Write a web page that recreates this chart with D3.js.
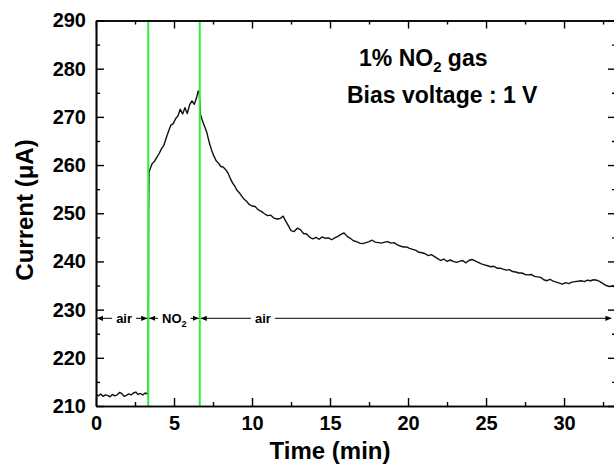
<!DOCTYPE html>
<html>
<head>
<meta charset="utf-8">
<script src="https://cdn.jsdelivr.net/npm/d3@7"></script>
<style>
  body { margin: 0; background: #fff; }
  text { font-family: "Liberation Sans", Arial, sans-serif; font-weight: bold; }
</style>
</head>
<body>
<div id="chart"></div>
<script>
// time (min) and current (uA)
var time = [0, 0.15, 0.3, 0.45, 0.6, 0.75, 0.9, 1.05, 1.2, 1.35, 1.5, 1.65, 1.8, 1.95, 2.1, 2.25, 2.4, 2.55, 2.7, 2.85, 3.0, 3.15, 3.3,
  3.35, 3.37, 3.4, 3.5, 3.6, 3.75, 3.9, 4.05, 4.2, 4.35, 4.5, 4.65, 4.8, 4.95, 5.1, 5.25, 5.4, 5.55, 5.7, 5.85, 6.0, 6.15, 6.3, 6.45, 6.55, 6.62,
  6.7, 6.8, 6.95, 7.1, 7.25, 7.4, 7.55, 7.7, 7.85, 8.0, 8.15, 8.3, 8.45, 8.6, 8.75, 8.9, 9.05, 9.2, 9.35, 9.5, 9.65, 9.8,
  10.0, 10.2, 10.4, 10.6, 10.8, 11.0, 11.2, 11.4, 11.6, 11.8, 12.0, 12.15, 12.3, 12.5, 12.7, 12.9, 13.1, 13.3, 13.5, 13.7, 13.9,
  14.1, 14.3, 14.5, 14.7, 14.9, 15.1, 15.3, 15.5, 15.7, 15.9, 16.1, 16.3, 16.5, 16.7, 16.9, 17.1, 17.3, 17.5, 17.7, 17.9,
  18.1, 18.3, 18.5, 18.7, 18.9, 19.1, 19.3, 19.5, 19.7, 19.9, 20.1, 20.3, 20.5, 20.7, 20.9, 21.1, 21.3, 21.5, 21.7, 21.9,
  22.1, 22.3, 22.5, 22.7, 22.9, 23.1, 23.3, 23.5, 23.7, 23.9, 24.1, 24.3, 24.5, 24.7, 24.9, 25.1, 25.3, 25.5, 25.7, 25.9,
  26.1, 26.3, 26.5, 26.7, 26.9, 27.1, 27.3, 27.5, 27.7, 27.9, 28.1, 28.3, 28.5, 28.7, 28.9, 29.1, 29.3, 29.5, 29.7, 29.9,
  30.1, 30.3, 30.5, 30.7, 30.9, 31.1, 31.3, 31.5, 31.7, 31.9, 32.1, 32.3, 32.5, 32.7, 32.9, 33.1, 33.3];
var current = [212.4, 212.1, 212.5, 212.0, 212.3, 212.2, 211.9, 212.4, 212.1, 212.3, 212.8, 212.6, 212.0, 212.2, 212.5, 212.3, 212.7, 212.9, 212.4, 212.6, 212.3, 212.7, 212.5,
  212.6, 250.0, 258.5, 259.5, 260.3, 260.8, 261.6, 262.4, 263.4, 264.1, 265.6, 267.0, 268.3, 268.6, 269.6, 270.2, 271.6, 270.6, 271.9, 270.7, 272.5, 273.3, 272.6, 274.0, 275.4, 274.8,
  270.5, 269.4, 268.1, 266.8, 264.8, 263.2, 261.9, 260.9, 260.4, 259.7, 259.6, 259.1, 258.4, 257.3, 256.3, 255.6, 254.7, 254.2, 253.5, 252.9, 252.5, 251.9,
  251.5, 251.4, 250.7, 250.4, 249.9, 249.5, 249.6, 249.0, 248.8, 248.9, 249.4, 248.4, 247.6, 246.4, 246.2, 246.9, 246.6, 245.8, 245.7, 245.0, 244.7,
  245.0, 244.6, 245.1, 244.8, 244.9, 244.5, 244.9, 245.2, 245.6, 245.9, 245.2, 244.8, 244.3, 244.1, 243.8, 243.7, 243.9, 244.1, 244.4, 244.0,
  243.9, 243.8, 244.0, 244.1, 243.8, 243.9, 243.5, 243.2, 243.0, 243.0, 242.7, 242.5, 242.3, 241.9, 241.8, 241.6, 241.2, 241.4, 241.0, 240.6,
  240.2, 240.5, 240.0, 240.3, 240.0, 239.8, 240.0, 240.2, 239.7, 240.2, 240.4, 240.1, 239.8, 239.5, 239.3, 239.1, 238.9, 239.0, 238.6, 238.6,
  238.4, 238.2, 238.3, 237.9, 237.8, 237.6, 237.6, 237.3, 237.2, 237.3, 236.9, 236.8, 236.7, 236.2, 236.0, 236.3, 235.9, 235.7, 235.5, 235.3,
  235.6, 235.4, 235.7, 235.8, 235.9, 236.0, 235.8, 236.1, 236.0, 236.2, 236.1, 235.8, 235.4, 235.0, 234.8, 234.9, 234.7];

var xMajor = [0, 5, 10, 15, 20, 25, 30];
var xMinor = [2.5, 7.5, 12.5, 17.5, 22.5, 27.5, 32.5];
var yMajor = [210, 220, 230, 240, 250, 260, 270, 280, 290];
var yMinor = [215, 225, 235, 245, 255, 265, 275, 285];

// gas switching times (green lines) and the phase arrows
var switchTimes = [3.35, 6.65];
var phaseLabels = ["air", "NO2", "air"];
var phaseStart = [0, 3.35, 6.65];
var phaseEnd = [3.35, 6.65, 33.1];
var phaseLabelAt = [1.8, 5.02, 10.7];
var phaseLevel = 228.2;

function draw() {
    var w = 614, h = 466;

    var x = d3.scaleLinear().domain([0, 33.33]).range([96, 616]);
    var y = d3.scaleLinear().domain([210, 290]).range([406, 20.5]);

    var svg = d3.select("#chart").append("svg")
        .attr("width", w)
        .attr("height", h);

    var defs = svg.append("defs");
    defs.append("clipPath").attr("id", "plot")
        .append("rect").attr("x", 96).attr("y", 20.5).attr("width", 520).attr("height", 385.5);
    defs.append("marker")
        .attr("id", "head")
        .attr("viewBox", "-6 -3 6 6")
        .attr("refX", 0).attr("refY", 0)
        .attr("markerWidth", 6).attr("markerHeight", 6)
        .attr("markerUnits", "userSpaceOnUse")
        .attr("orient", "auto-start-reverse")
        .append("path").attr("d", "M0,0L-6,-2.6L-6,2.6Z").attr("fill", "#000");

    // the current trace
    var pts = time.map((t, i) => [t, current[i]]);
    svg.append("path")
        .datum(pts)
        .attr("clip-path", "url(#plot)")
        .attr("d", d3.line().x(d => x(d[0])).y(d => y(d[1])))
        .attr("fill", "none")
        .attr("stroke", "#111")
        .attr("stroke-width", 1.4)
        .attr("stroke-linejoin", "round");

    // green switching lines, drawn over the trace
    svg.selectAll("line.switch")
        .data(switchTimes)
        .enter().append("line")
        .attr("class", "switch")
        .attr("x1", d => x(d)).attr("x2", d => x(d))
        .attr("y1", y(210)).attr("y2", y(290))
        .attr("stroke", "#33ee33")
        .attr("stroke-width", 2);

    // phase arrows
    var py = y(phaseLevel);
    phaseLabels.forEach(function(lab, i) {
        var xc = x(phaseLabelAt[i]);
        var t = svg.append("text")
            .attr("x", xc).attr("y", py)
            .attr("dy", "0.35em")
            .attr("text-anchor", "middle")
            .attr("font-size", 13);
        if (lab === "NO2") {
            t.append("tspan").text("NO");
            t.append("tspan").text("2").attr("font-size", 9).attr("dy", 4);
        } else {
            t.text(lab);
        }
        var bw = t.node().getBBox().width;
        svg.append("line")
            .attr("x1", x(phaseStart[i]) + 1).attr("x2", xc - bw / 2 - 4)
            .attr("y1", py).attr("y2", py)
            .attr("stroke", "#000").attr("stroke-width", 1)
            .attr("marker-start", "url(#head)");
        svg.append("line")
            .attr("x1", xc + bw / 2 + 4).attr("x2", x(phaseEnd[i]) - 1)
            .attr("y1", py).attr("y2", py)
            .attr("stroke", "#000").attr("stroke-width", 1)
            .attr("marker-end", "url(#head)");
    });

    // axes, ticks pointing inward
    function styleAxis(g) {
        g.select(".domain").attr("stroke-width", 1.6);
        g.selectAll(".tick line").attr("stroke-width", 1.4);
        g.selectAll("text").attr("font-size", 20).attr("fill", "#000")
            .attr("font-family", "'Liberation Sans', Arial, sans-serif").attr("font-weight", "bold");
    }
    svg.append("g").attr("transform", "translate(0," + y(210) + ")")
        .call(d3.axisBottom(x).tickValues(xMinor).tickSize(-4).tickSizeOuter(0).tickFormat(""))
        .call(styleAxis);
    svg.append("g").attr("transform", "translate(0," + y(210) + ")")
        .call(d3.axisBottom(x).tickValues(xMajor).tickSize(-8).tickSizeOuter(0).tickPadding(10).tickFormat(d3.format("d")))
        .call(styleAxis);
    svg.append("g").attr("transform", "translate(0," + y(290) + ")")
        .call(d3.axisTop(x).tickValues(xMinor).tickSize(-4).tickSizeOuter(0).tickFormat(""))
        .call(styleAxis);
    svg.append("g").attr("transform", "translate(0," + y(290) + ")")
        .call(d3.axisTop(x).tickValues(xMajor).tickSize(-8).tickSizeOuter(0).tickFormat(""))
        .call(styleAxis);
    svg.append("g").attr("transform", "translate(" + x(0) + ",0)")
        .call(d3.axisLeft(y).tickValues(yMinor).tickSize(-4).tickSizeOuter(0).tickFormat(""))
        .call(styleAxis);
    svg.append("g").attr("transform", "translate(" + x(0) + ",0)")
        .call(d3.axisLeft(y).tickValues(yMajor).tickSize(-8).tickSizeOuter(0).tickPadding(10).tickFormat(d3.format("d")))
        .call(styleAxis);
    svg.append("g").attr("transform", "translate(" + x(33.33) + ",0)")
        .call(d3.axisRight(y).tickValues(yMinor).tickSize(-4).tickSizeOuter(0).tickFormat(""))
        .call(styleAxis);
    svg.append("g").attr("transform", "translate(" + x(33.33) + ",0)")
        .call(d3.axisRight(y).tickValues(yMajor).tickSize(-8).tickSizeOuter(0).tickFormat(""))
        .call(styleAxis);

    // axis titles
    svg.append("text")
        .attr("x", 330).attr("y", 459)
        .attr("text-anchor", "middle")
        .attr("font-size", 24)
        .text("Time (min)");
    svg.append("text")
        .attr("transform", "translate(32.5,210) rotate(-90)")
        .attr("text-anchor", "middle")
        .attr("font-size", 24)
        .text("Current (\u03bcA)");

    // annotation
    var a1 = svg.append("text").attr("x", 359).attr("y", 66).attr("font-size", 23);
    a1.append("tspan").text("1% NO");
    a1.append("tspan").text("2").attr("font-size", 15).attr("dy", 6);
    a1.append("tspan").text(" gas").attr("dy", -6);
    svg.append("text").attr("x", 347).attr("y", 103).attr("font-size", 23)
        .text("Bias voltage : 1 V");
}

window.onload = draw;
</script>
</body>
</html>
